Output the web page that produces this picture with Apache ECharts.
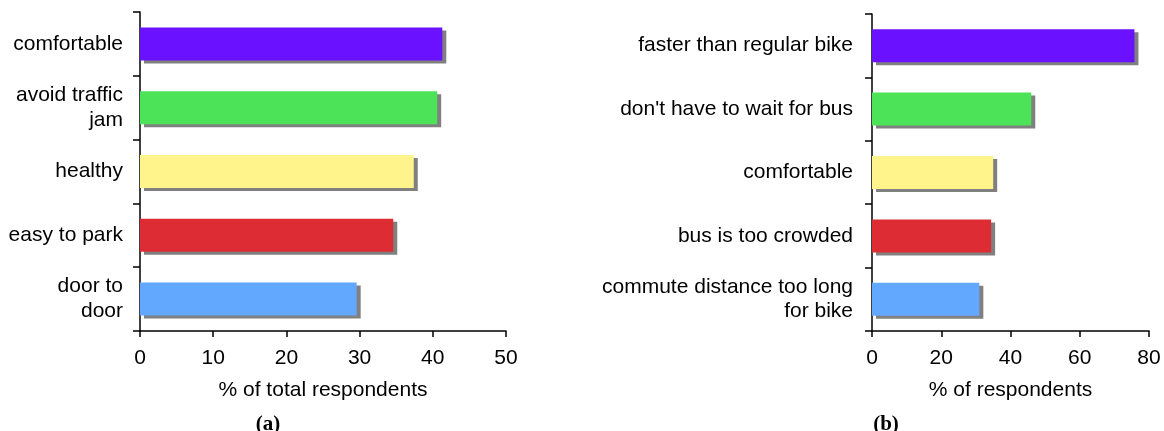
<!DOCTYPE html>
<html>
<head>
<meta charset="utf-8">
<script src="https://cdn.jsdelivr.net/npm/echarts@6/dist/echarts.min.js"></script>
<style>
  html, body { margin: 0; padding: 0; background: #fff; }
  #chart { width: 1164px; height: 431px; }
</style>
</head>
<body>
<div id="chart"></div>
<script>
// panel (a): reasons, % of total respondents
const catsA = ['comfortable', 'avoid traffic\njam', 'healthy', 'easy to park', 'door to\ndoor'];
const valsA = [41.3, 40.6, 37.4, 34.6, 29.6];
// panel (b): reasons, % of respondents
const catsB = ['faster than regular bike', "don't have to wait for bus", 'comfortable', 'bus is too crowded', 'commute distance too long\nfor bike'];
const valsB = [75.8, 46.0, 35.0, 34.4, 31.0];
const barColors = ['#6a12ff', '#4de359', '#fff38c', '#dd2c33', '#63a8ff'];

const font = 'Liberation Sans, Arial, sans-serif';
const serif = 'Liberation Serif, Times New Roman, serif';

function catAxis(idx, lh) {
    return {
        type: 'category',
        gridIndex: idx,
        data: idx === 0 ? catsA : catsB,
        inverse: true,
        axisLine: { show: true, lineStyle: { color: '#000', width: 1.5 } },
        axisTick: { show: true, inside: false, length: 7, lineStyle: { color: '#000', width: 1.5 } },
        axisLabel: {
            color: '#000', fontSize: 21, fontFamily: font,
            margin: idx === 0 ? 17 : 19, lineHeight: lh
        },
        splitLine: { show: false }
    };
}

function valAxis(idx, max, interval, name) {
    return {
        type: 'value',
        gridIndex: idx,
        min: 0,
        max: max,
        interval: interval,
        name: name,
        nameLocation: 'middle',
        nameGap: 49,
        nameTextStyle: { color: '#000', fontSize: 21, fontFamily: font },
        axisLine: { show: true, lineStyle: { color: '#000', width: 1.5 } },
        axisTick: { show: true, inside: false, length: 6, lineStyle: { color: '#000', width: 1.5 } },
        axisLabel: { color: '#000', fontSize: 21, fontFamily: font, margin: 17 },
        splitLine: { show: false }
    };
}

function barSeries(idx, vals) {
    return {
        type: 'bar',
        xAxisIndex: idx,
        yAxisIndex: idx,
        barWidth: 33,
        data: vals.map((v, i) => ({ value: v, itemStyle: { color: barColors[i] } })),
        itemStyle: {
            shadowColor: '#808080',
            shadowBlur: 0,
            shadowOffsetX: 4,
            shadowOffsetY: 3
        },
        silent: true,
        animation: false
    };
}

const chart = echarts.init(document.getElementById('chart'));
chart.setOption({
    backgroundColor: '#fff',
    animation: false,
    title: [
        {
            text: '(a)', left: 263, top: 409, textAlign: 'center',
            textStyle: { fontFamily: serif, fontWeight: 'bold', fontSize: 21, color: '#000' }
        },
        {
            text: '(b)', left: 881, top: 409, textAlign: 'center',
            textStyle: { fontFamily: serif, fontWeight: 'bold', fontSize: 21, color: '#000' }
        }
    ],
    grid: [
        { left: 140, top: 12, width: 366, height: 319 },
        { left: 872, top: 14, width: 277, height: 317 }
    ],
    xAxis: [
        valAxis(0, 50, 10, '% of total respondents'),
        valAxis(1, 80, 20, '% of respondents')
    ],
    yAxis: [catAxis(0, 25), catAxis(1, 24)],
    series: [barSeries(0, valsA), barSeries(1, valsB)]
});
</script>
</body>
</html>
